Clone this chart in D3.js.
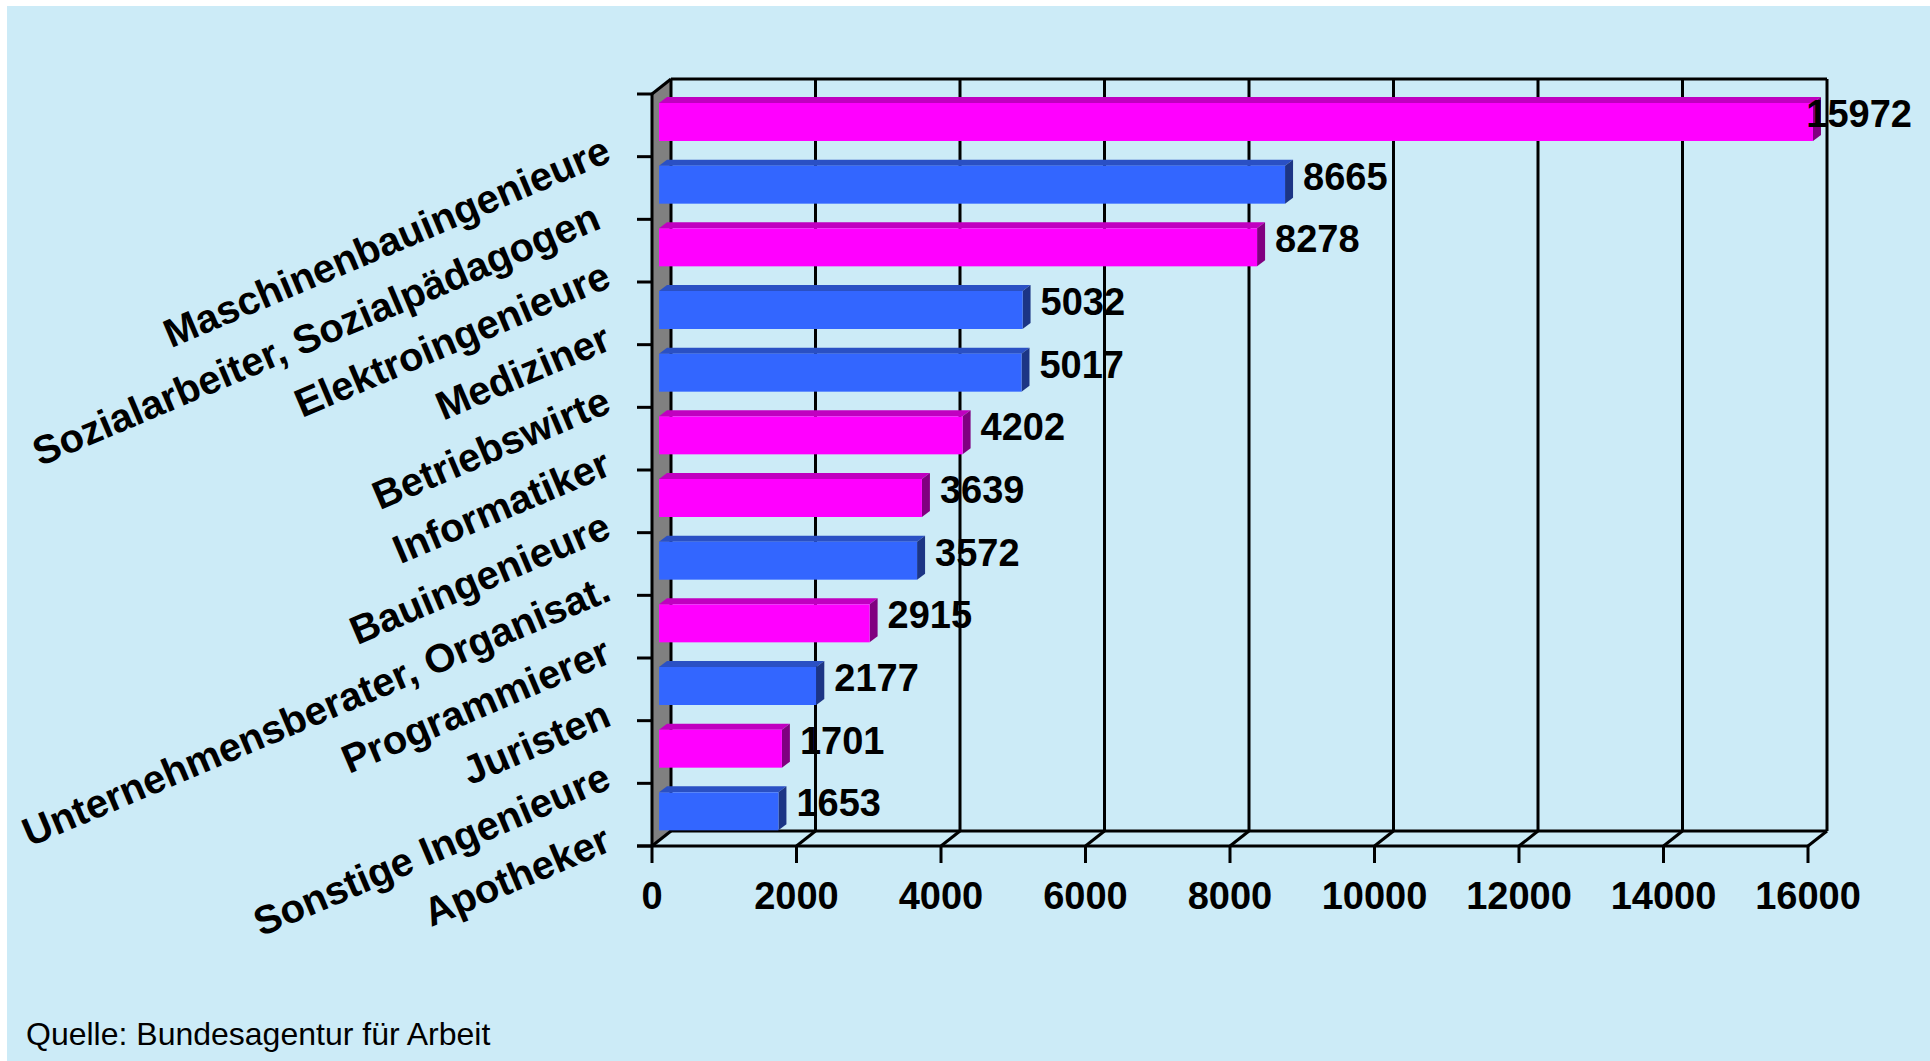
<!DOCTYPE html>
<html>
<head>
<meta charset="utf-8">
<script src="https://cdn.jsdelivr.net/npm/d3@7"></script>
<style>
  html, body { margin: 0; padding: 0; background: #ffffff; }
  svg { display: block; }
  text { font-family: "Liberation Sans", Arial, sans-serif; }
</style>
</head>
<body>
<svg id="chart" width="1930" height="1061"></svg>
<script>
// ---- data ----
const categories = [
  "Maschinenbauingenieure",
  "Sozialarbeiter, Sozialpädagogen ",
  "Elektroingenieure",
  "Mediziner",
  "Betriebswirte",
  "Informatiker",
  "Bauingenieure",
  "Unternehmensberater, Organisat.",
  "Programmierer",
  "Juristen",
  "Sonstige Ingenieure",
  "Apotheker"
];
const values = [15972, 8665, 8278, 5032, 5017, 4202, 3639, 3572, 2915, 2177, 1701, 1653];
const colorGroup = ["m", "b", "m", "b", "b", "m", "m", "b", "m", "b", "m", "b"];
const xTicks = [0, 2000, 4000, 6000, 8000, 10000, 12000, 14000, 16000];
const sourceText = "Quelle: Bundesagentur für Arbeit";

// ---- styles ----
const palette = {
  m: { front: "#FF00FF", top: "#C000C0", side: "#800080" },
  b: { front: "#3366FF", top: "#2A50C4", side: "#1C3585" }
};
const bg = "#CCEBF7";
const W = 1930, H = 1061;

const svg = d3.select("#chart");
svg.append("rect").attr("x", 7).attr("y", 6).attr("width", W - 7).attr("height", H - 6).attr("fill", bg);

// ---- scales ----
const x = d3.scaleLinear().domain([0, 16000]).range([652, 1808]);
const y = d3.scaleBand().domain(categories).range([94, 846]).padding(0);

const wallDx = 19, wallDy = -15;     // 3D depth of the chart box
const barOff = 7, barDx = 8, barDy = -6; // bar placement/depth
const barTop = 9, barH = 38;

const yTop = y.range()[0], yBot = y.range()[1];
const xL = x(0), xR = x(16000);

// side wall (gray)
svg.append("polygon")
  .attr("points", [[xL, yTop], [xL + wallDx, yTop + wallDy], [xL + wallDx, yBot + wallDy], [xL, yBot]].map(p => p.join(",")).join(" "))
  .attr("fill", "#808080");

const g = svg.append("g").attr("stroke", "#000").attr("stroke-width", 3).attr("fill", "none");

// back wall gridlines
g.selectAll("line.grid").data(xTicks).join("line")
  .attr("class", "grid")
  .attr("x1", d => x(d) + wallDx).attr("x2", d => x(d) + wallDx)
  .attr("y1", yTop + wallDy).attr("y2", yBot + wallDy);
// back top edge
g.append("line").attr("x1", xL + wallDx).attr("x2", xR + wallDx).attr("y1", yTop + wallDy).attr("y2", yTop + wallDy);
// back floor edge
g.append("line").attr("x1", xL + wallDx).attr("x2", xR + wallDx).attr("y1", yBot + wallDy).attr("y2", yBot + wallDy);
// floor diagonals at each tick
g.selectAll("line.diag").data(xTicks).join("line")
  .attr("class", "diag")
  .attr("x1", d => x(d)).attr("y1", yBot)
  .attr("x2", d => x(d) + wallDx).attr("y2", yBot + wallDy);
// top-left diagonal
g.append("line").attr("x1", xL).attr("y1", yTop).attr("x2", xL + wallDx).attr("y2", yTop + wallDy);

// ---- bars ----
const bars = svg.append("g");
categories.forEach((c, i) => {
  const col = palette[colorGroup[i]];
  const x0 = x(0) + barOff;
  const x1 = x0 + (x(values[i]) - x(0));
  const t = y(c) + barTop, b = t + barH;
  bars.append("polygon")
    .attr("points", [[x0, t], [x0 + barDx, t + barDy], [x1 + barDx, t + barDy], [x1, t]].map(p => p.join(",")).join(" "))
    .attr("fill", col.top);
  bars.append("polygon")
    .attr("points", [[x1, t], [x1 + barDx, t + barDy], [x1 + barDx, b + barDy], [x1, b]].map(p => p.join(",")).join(" "))
    .attr("fill", col.side);
  bars.append("rect")
    .attr("x", x0).attr("y", t).attr("width", x1 - x0).attr("height", barH)
    .attr("fill", col.front);
});

// ---- front axes ----
const ax = svg.append("g").attr("stroke", "#000").attr("stroke-width", 3);
ax.append("line").attr("x1", xL).attr("x2", xL).attr("y1", yTop).attr("y2", yBot);
const yBounds = categories.map(c => y(c)).concat([yBot]);
ax.selectAll("line.yt").data(yBounds).join("line")
  .attr("class", "yt")
  .attr("x1", xL - 15).attr("x2", xL).attr("y1", d => d).attr("y2", d => d);
ax.append("line").attr("x1", xL - 15).attr("x2", xR).attr("y1", yBot).attr("y2", yBot);
ax.selectAll("line.xt").data(xTicks).join("line")
  .attr("class", "xt")
  .attr("x1", d => x(d)).attr("x2", d => x(d)).attr("y1", yBot).attr("y2", yBot + 17);

// x tick labels
svg.append("g").selectAll("text").data(xTicks).join("text")
  .attr("x", d => x(d)).attr("y", 909)
  .attr("text-anchor", "middle")
  .attr("font-size", 38).attr("font-weight", "bold").attr("fill", "#000")
  .text(d => d);

// category labels (rotated)
svg.append("g").selectAll("text").data(categories).join("text")
  .attr("transform", d => `translate(613,${y(d) + y.bandwidth() + 4}) rotate(-23)`)
  .attr("text-anchor", "end")
  .attr("font-size", 40).attr("font-weight", "bold").attr("fill", "#000")
  .style("white-space", "pre")
  .text(d => d);

// value labels
const vl = svg.append("g").selectAll("text").data(categories).join("text")
  .attr("y", d => y(d) + 33)
  .attr("font-size", 38).attr("font-weight", "bold").attr("fill", "#000")
  .text((d, i) => values[i]);
vl.each(function (d, i) {
  const w = this.getComputedTextLength();
  const want = x(0) + barOff + (x(values[i]) - x(0)) + barDx + 10;
  d3.select(this).attr("x", Math.min(want, W - 18 - w));
});

// source
svg.append("text")
  .attr("x", 26).attr("y", 1045)
  .attr("font-size", 32).attr("fill", "#000")
  .text(sourceText);
</script>
</body>
</html>
